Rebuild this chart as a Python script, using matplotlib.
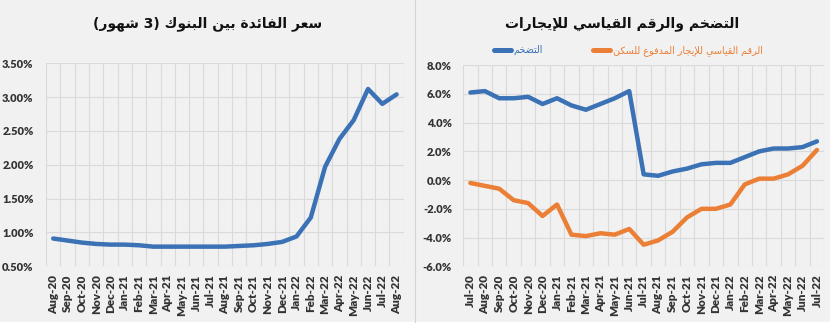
import re
import matplotlib
matplotlib.use("Agg")
import matplotlib.pyplot as plt
from matplotlib.ticker import FixedLocator, FuncFormatter

# ---------------------------------------------------------------- data
rate_months = ["Aug-20", "Sep-20", "Oct-20", "Nov-20", "Dec-20", "Jan-21", "Feb-21",
               "Mar-21", "Apr-21", "May-21", "Jun-21", "Jul-21", "Aug-21", "Sep-21",
               "Oct-21", "Nov-21", "Dec-21", "Jan-22", "Feb-22", "Mar-22", "Apr-22",
               "May-22", "Jun-22", "Jul-22", "Aug-22"]
interbank_3m = [0.91, 0.88, 0.85, 0.83, 0.82, 0.82, 0.81, 0.79, 0.79, 0.79, 0.79,
                0.79, 0.79, 0.80, 0.81, 0.83, 0.86, 0.94, 1.22, 1.97, 2.38, 2.66,
                3.12, 2.90, 3.04]

cpi_months = ["Jul-20", "Aug-20", "Sep-20", "Oct-20", "Nov-20", "Dec-20", "Jan-21",
              "Feb-21", "Mar-21", "Apr-21", "May-21", "Jun-21", "Jul-21", "Aug-21",
              "Sep-21", "Oct-21", "Nov-21", "Dec-21", "Jan-22", "Feb-22", "Mar-22",
              "Apr-22", "May-22", "Jun-22", "Jul-22"]
inflation = [6.1, 6.2, 5.7, 5.7, 5.8, 5.3, 5.7, 5.2, 4.9, 5.3, 5.7, 6.2, 0.4, 0.3,
             0.6, 0.8, 1.1, 1.2, 1.2, 1.6, 2.0, 2.2, 2.2, 2.3, 2.7]
rent_index = [-0.2, -0.4, -0.6, -1.4, -1.6, -2.5, -1.7, -3.8, -3.9, -3.7, -3.8, -3.4,
              -4.5, -4.2, -3.6, -2.6, -2.0, -2.0, -1.7, -0.3, 0.1, 0.1, 0.4, 1.0, 2.1]

rate_ticks = [0.5, 1.0, 1.5, 2.0, 2.5, 3.0, 3.5]
cpi_ticks = [-6, -4, -2, 0, 2, 4, 6, 8]

title_rate = "سعر الفائدة بين البنوك (3 شهور)"
title_cpi = "التضخم والرقم القياسي للإيجارات"
label_inflation = "التضخم"
label_rent = "الرقم القياسي للإيجار المدفوع للسكن"

# ------------------------------------------------- arabic text shaping
# (isolated, final, initial, medial) presentation forms
_FORMS = {
    "ا": ("\uFE8D", "\uFE8E", None, None),
    "إ": ("\uFE87", "\uFE88", None, None),
    "ب": ("\uFE8F", "\uFE90", "\uFE91", "\uFE92"),
    "ة": ("\uFE93", "\uFE94", None, None),
    "ت": ("\uFE95", "\uFE96", "\uFE97", "\uFE98"),
    "ج": ("\uFE9D", "\uFE9E", "\uFE9F", "\uFEA0"),
    "خ": ("\uFEA5", "\uFEA6", "\uFEA7", "\uFEA8"),
    "د": ("\uFEA9", "\uFEAA", None, None),
    "ر": ("\uFEAD", "\uFEAE", None, None),
    "س": ("\uFEB1", "\uFEB2", "\uFEB3", "\uFEB4"),
    "ش": ("\uFEB5", "\uFEB6", "\uFEB7", "\uFEB8"),
    "ض": ("\uFEBD", "\uFEBE", "\uFEBF", "\uFEC0"),
    "ع": ("\uFEC9", "\uFECA", "\uFECB", "\uFECC"),
    "ف": ("\uFED1", "\uFED2", "\uFED3", "\uFED4"),
    "ق": ("\uFED5", "\uFED6", "\uFED7", "\uFED8"),
    "ك": ("\uFED9", "\uFEDA", "\uFEDB", "\uFEDC"),
    "ل": ("\uFEDD", "\uFEDE", "\uFEDF", "\uFEE0"),
    "م": ("\uFEE1", "\uFEE2", "\uFEE3", "\uFEE4"),
    "ن": ("\uFEE5", "\uFEE6", "\uFEE7", "\uFEE8"),
    "ه": ("\uFEE9", "\uFEEA", "\uFEEB", "\uFEEC"),
    "و": ("\uFEED", "\uFEEE", None, None),
    "ي": ("\uFEF1", "\uFEF2", "\uFEF3", "\uFEF4"),
    "ئ": ("\uFE89", "\uFE8A", "\uFE8B", "\uFE8C"),
}
_LAM_ALEF = {"ا": ("\uFEFB", "\uFEFC"), "إ": ("\uFEF9", "\uFEFA")}


def _joins_forward(ch):
    return ch in _FORMS and _FORMS[ch][2] is not None


def ar(text):
    """Shape Arabic letters and lay them out right-to-left for display."""
    out = []
    i = 0
    while i < len(text):
        c = text[i]
        prev = text[i - 1] if i > 0 else ""
        if c == "ل" and i + 1 < len(text) and text[i + 1] in _LAM_ALEF:
            iso, fin = _LAM_ALEF[text[i + 1]]
            out.append(fin if _joins_forward(prev) else iso)
            i += 2
            continue
        if c in _FORMS:
            nxt = text[i + 1] if i + 1 < len(text) else ""
            p = _joins_forward(prev)
            n = _joins_forward(c) and nxt in _FORMS
            iso, fin, ini, med = _FORMS[c]
            out.append(med if (p and n) else fin if p else ini if n else iso)
        else:
            out.append(c)
        i += 1
    vis = "".join(reversed(out))
    vis = vis.translate(str.maketrans("()", ")("))
    return re.sub(r"[0-9.]+", lambda m: m.group()[::-1], vis)


# ---------------------------------------------------------------- style
BG = "#f1f1f1"
GRID = "#dadada"
TICK_COLOR = "#333333"
BLUE = "#3b71b5"
ORANGE = "#ec7f36"
TICK_FONT = "Lato"
AR_FONT = ["DejaVu Sans"]

fig = plt.figure(figsize=(8.3, 3.32), dpi=100, facecolor=BG)

# panel separator and white strip at the bottom
fig.add_artist(plt.Line2D([0.4995, 0.4995], [0.03, 1.0], color="#d4d4d4", lw=0.8))
fig.add_artist(plt.Rectangle((0, 0), 1, 0.03, color="white", zorder=0))


def style_axes(ax, labels, yticks, fmt, ypad):
    ax.set_facecolor(BG)
    n = len(labels)
    ax.set_xlim(-0.5, n - 0.5)
    ax.set_xticks(range(n))
    ax.set_xticklabels(labels, rotation=90, fontfamily=TICK_FONT,
                       fontweight="heavy", fontsize=8.4, color=TICK_COLOR)
    ax.xaxis.set_minor_locator(FixedLocator([k - 0.5 for k in range(n + 1)]))
    ax.set_yticks(yticks)
    ax.yaxis.set_major_formatter(FuncFormatter(fmt))
    ax.set_ylim(yticks[0], yticks[-1])
    for lab in ax.get_yticklabels():
        lab.set_fontfamily(TICK_FONT)
        lab.set_fontweight("heavy")
        lab.set_fontsize(8.0)
        lab.set_color(TICK_COLOR)
    ax.tick_params(axis="both", which="both", length=0)
    ax.tick_params(axis="x", pad=6)
    ax.tick_params(axis="y", pad=ypad)
    ax.grid(True, axis="y", which="major", color=GRID, lw=0.8)
    ax.grid(True, axis="x", which="minor", color=GRID, lw=0.8)
    ax.set_axisbelow(True)
    for s in ax.spines.values():
        s.set_visible(False)


# ---------------------------------------------------- left: interbank rate
ax1 = fig.add_axes([0.0555, 0.198, 0.431, 0.6115])
ax1.plot(range(len(rate_months)), interbank_3m, color=BLUE, lw=3.2,
         solid_capstyle="round", solid_joinstyle="round")
style_axes(ax1, rate_months, rate_ticks, lambda v, _: f"{v:.2f}%", 9)
fig.text(0.25, 0.928, ar(title_rate), ha="center", va="center",
         fontsize=10, fontweight="bold", family=AR_FONT, color="#111111")

# -------------------------------------------- right: inflation and rents
ax2 = fig.add_axes([0.558, 0.198, 0.435, 0.6055])
ax2.plot(range(len(cpi_months)), inflation, color=BLUE, lw=3.2,
         solid_capstyle="round", solid_joinstyle="round", label=ar(label_inflation))
ax2.plot(range(len(cpi_months)), rent_index, color=ORANGE, lw=3.2,
         solid_capstyle="round", solid_joinstyle="round", label=ar(label_rent))
style_axes(ax2, cpi_months, cpi_ticks, lambda v, _: f"{v:.1f}%", 8)
fig.text(0.75, 0.928, ar(title_cpi), ha="center", va="center",
         fontsize=10, fontweight="bold", family=AR_FONT, color="#111111")
leg = fig.legend(loc="center", bbox_to_anchor=(0.757, 0.848), ncol=2, frameon=False,
                 prop={"family": AR_FONT, "size": 6.9}, labelcolor="linecolor",
                 handlelength=1.8, handletextpad=0.3, columnspacing=5.2)
for h in leg.get_lines():
    h.set_linewidth(3.6)

fig.savefig("out.png", dpi=100, facecolor=BG)
